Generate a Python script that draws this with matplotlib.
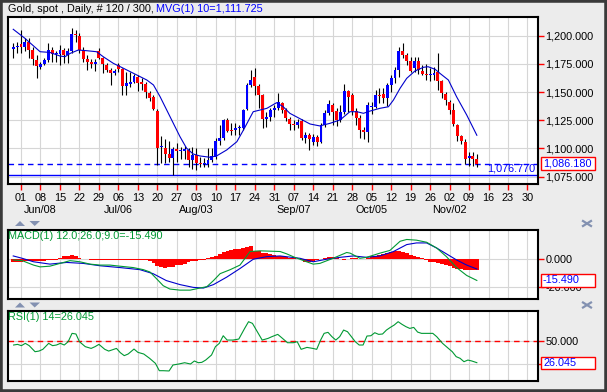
import numpy as np
import matplotlib.pyplot as plt
from matplotlib.patches import Rectangle, Polygon
from matplotlib.lines import Line2D
from matplotlib.ticker import FuncFormatter

plt.rcParams['font.family'] = ['Liberation Sans', 'DejaVu Sans']

# daily candles, 28 May .. 11 Nov (120 bars)
opens = [1188.5, 1190.0, 1192.3, 1190.0, 1194.7, 1187.0, 1178.4, 1172.5, 1174.6, 1178.4,
         1187.6, 1183.5, 1184.0, 1187.6, 1182.9, 1186.4, 1201.5, 1200.0, 1187.3, 1179.6,
         1176.4, 1175.0, 1186.7, 1180.5, 1174.0, 1169.6, 1167.2, 1174.0, 1170.5, 1155.7,
         1157.2, 1159.2, 1163.7, 1159.2, 1157.0, 1149.5, 1146.0, 1133.5, 1101.0, 1100.7,
         1094.8, 1091.3, 1099.5, 1097.5, 1097.5, 1098.6, 1089.8, 1094.2, 1087.1, 1086.2,
         1085.9, 1089.8, 1092.7, 1106.6, 1109.6, 1125.2, 1116.4, 1116.4, 1118.0, 1117.8,
         1134.9, 1156.3, 1163.7, 1155.7, 1147.4, 1126.1, 1128.2, 1134.0, 1135.6, 1140.0,
         1134.0, 1126.1, 1121.4, 1121.0, 1124.4, 1109.0, 1111.9, 1106.0, 1110.5, 1106.0,
         1120.8, 1131.2, 1138.5, 1133.2, 1125.2, 1132.6, 1151.0, 1147.4, 1133.2, 1126.7,
         1116.4, 1114.9, 1136.5, 1137.0, 1147.4, 1148.3, 1144.4, 1156.3, 1162.2, 1169.6,
         1186.4, 1182.9, 1177.8, 1171.0, 1177.8, 1168.7, 1165.9, 1165.2, 1165.1, 1167.5,
         1159.8, 1148.0, 1141.5, 1134.0, 1120.8, 1111.3, 1106.0, 1091.3, 1093.0, 1090.7]
highs = [1193.2, 1194.0, 1205.0, 1197.6, 1197.6, 1190.2, 1182.9, 1177.0, 1180.5, 1193.2,
         1190.2, 1186.4, 1191.7, 1189.4, 1188.8, 1206.5, 1205.0, 1202.0, 1190.0, 1182.9,
         1179.3, 1179.0, 1188.8, 1181.4, 1175.5, 1171.0, 1170.5, 1175.5, 1171.0, 1168.0,
         1168.0, 1165.7, 1165.1, 1162.2, 1159.2, 1151.0, 1147.4, 1135.0, 1111.3, 1108.4,
         1106.6, 1101.6, 1104.5, 1101.6, 1102.5, 1100.0, 1101.6, 1100.7, 1092.7, 1091.3,
         1100.0, 1100.7, 1109.0, 1120.8, 1126.1, 1126.7, 1122.3, 1123.0, 1120.8, 1134.7,
         1157.8, 1169.6, 1171.6, 1156.9, 1148.3, 1132.6, 1135.6, 1138.5, 1148.9, 1141.5,
         1135.6, 1128.2, 1125.2, 1126.0, 1126.0, 1115.0, 1113.4, 1112.5, 1112.0, 1122.3,
         1134.0, 1143.0, 1140.0, 1135.6, 1138.5, 1156.9, 1151.8, 1148.9, 1135.6, 1129.7,
         1119.0, 1140.9, 1141.0, 1152.0, 1154.0, 1154.0, 1158.0, 1165.0, 1172.0, 1190.3,
         1193.2, 1184.9, 1181.4, 1181.4, 1180.8, 1174.0, 1175.0, 1171.0, 1172.0, 1184.4,
         1161.0, 1150.0, 1143.0, 1140.0, 1122.0, 1112.0, 1108.0, 1097.2, 1096.6, 1094.8]
lows = [1180.5, 1185.0, 1185.0, 1186.4, 1180.0, 1174.0, 1162.2, 1170.5, 1174.0, 1177.0,
        1177.0, 1177.0, 1174.0, 1175.5, 1175.5, 1184.3, 1194.7, 1184.3, 1177.0, 1169.6,
        1171.0, 1168.7, 1179.5, 1166.6, 1167.5, 1156.3, 1165.0, 1168.0, 1147.4, 1147.4,
        1154.8, 1157.8, 1151.0, 1151.8, 1144.4, 1142.0, 1134.0, 1085.3, 1086.8, 1086.8,
        1088.3, 1076.77, 1088.3, 1090.7, 1091.0, 1083.9, 1081.8, 1081.0, 1084.0, 1084.0,
        1083.9, 1088.3, 1091.0, 1103.0, 1107.5, 1114.3, 1112.0, 1112.0, 1112.0, 1116.4,
        1134.0, 1154.8, 1147.4, 1135.6, 1117.8, 1119.3, 1124.4, 1128.2, 1134.0, 1131.2,
        1124.4, 1116.4, 1116.4, 1117.8, 1107.5, 1104.5, 1098.6, 1103.0, 1102.5, 1104.5,
        1119.3, 1129.7, 1120.8, 1120.2, 1123.8, 1130.3, 1132.6, 1129.7, 1120.8, 1109.0,
        1108.0, 1105.4, 1131.0, 1135.5, 1140.0, 1140.0, 1138.0, 1150.0, 1158.0, 1163.7,
        1180.0, 1174.0, 1168.1, 1168.1, 1166.0, 1165.4, 1160.7, 1160.0, 1161.0, 1151.9,
        1145.0, 1139.0, 1131.0, 1120.0, 1107.0, 1104.0, 1085.9, 1084.8, 1084.8, 1083.9]
closes = [1190.0, 1190.8, 1190.2, 1194.0, 1187.0, 1179.3, 1173.4, 1175.2, 1178.4, 1187.6,
          1183.5, 1183.8, 1187.6, 1182.9, 1186.4, 1201.5, 1200.5, 1187.3, 1179.6, 1177.0,
          1175.2, 1176.5, 1180.5, 1174.6, 1170.0, 1167.2, 1169.0, 1170.5, 1155.7, 1157.7,
          1159.2, 1164.2, 1157.8, 1156.9, 1150.4, 1145.0, 1135.0, 1100.7, 1101.5, 1094.8,
          1091.3, 1099.5, 1097.7, 1099.0, 1099.8, 1089.8, 1094.2, 1086.8, 1086.0, 1087.3,
          1089.8, 1093.3, 1106.6, 1109.6, 1125.2, 1115.5, 1115.5, 1118.4, 1118.0, 1134.0,
          1156.3, 1160.7, 1155.7, 1147.4, 1126.1, 1128.2, 1134.0, 1136.2, 1140.9, 1134.0,
          1127.3, 1121.4, 1120.5, 1123.5, 1109.0, 1111.9, 1108.4, 1110.5, 1106.0, 1120.8,
          1131.2, 1139.1, 1132.6, 1125.2, 1132.6, 1151.0, 1146.0, 1133.2, 1126.7, 1116.4,
          1114.9, 1138.5, 1137.5, 1147.4, 1146.8, 1144.4, 1156.3, 1162.2, 1169.6, 1186.4,
          1182.9, 1177.8, 1168.9, 1177.8, 1169.6, 1165.7, 1165.4, 1165.4, 1166.6, 1159.8,
          1148.9, 1143.0, 1134.0, 1121.4, 1111.3, 1106.6, 1090.7, 1093.0, 1090.7, 1086.18]

last_price = 1086.18
low_price = 1076.77

# 10 bar moving average
ma_x = [0.0, 3.0, 6.9, 9.4, 12.0, 13.3, 14.6, 16.7, 18.9, 21.4, 23.1, 25.7, 28.3, 31.7,
        34.3, 36.0, 37.7, 39.4, 41.1, 42.8, 44.5, 46.2, 47.9, 50.5, 52.2, 54.8, 57.4,
        59.1, 61.6, 65.1, 67.6, 69.3, 71.0, 73.4, 76.2, 78.7, 81.3, 83.9, 86.4, 88.2,
        89.9, 91.6, 94.1, 96.3, 97.6, 99.3, 101.0, 103.1, 105.3, 106.5, 108.3, 109.5,
        111.7, 113.8, 116.4, 119.0]
ma_y = [1205.7, 1197.7, 1185.8, 1185.2, 1182.0, 1181.4, 1184.3, 1187.3, 1186.7, 1185.8,
        1181.4, 1175.5, 1171.1, 1165.2, 1160.7, 1156.3, 1145.9, 1134.1, 1122.3, 1110.5,
        1100.2, 1095.1, 1093.4, 1092.2, 1093.4, 1098.7, 1106.0, 1116.4, 1132.6, 1135.6,
        1140.6, 1137.0, 1131.2, 1126.8, 1121.7, 1120.0, 1122.3, 1125.3, 1132.6, 1132.6,
        1131.2, 1133.2, 1135.6, 1137.0, 1143.0, 1153.4, 1162.2, 1168.7, 1172.0, 1172.5,
        1170.2, 1166.7, 1160.7, 1145.9, 1129.7, 1111.725]

# MACD(12,26,9) lines
macd_x = [0, 2.3, 5.2, 6.9, 9.4, 12.0, 14.6, 17.1, 19.7, 22.3, 24.8, 27.4, 30.8, 33.4,
          35.1, 36.8, 38.5, 40.2, 42.8, 45.4, 47.9, 49.7, 51.4, 53.1, 55.7, 58.2, 59.5,
          60.8, 63.3, 68.5, 70.2, 72.0, 73.6, 75.3, 77.0, 78.7, 82.1, 85.6, 86.5, 89.0,
          90.7, 94.1, 96.7, 99.3, 101.0, 103.5, 106.1, 108.7, 111.2, 113.8, 116.4, 119.0]
macd_y = [-0.7, -1.2, -4.4, -5.7, -5.2, -3.2, -1.2, -2.0, -3.7, -4.4, -4.4, -5.2, -6.2,
          -7.7, -9.4, -14.3, -19.3, -21.7, -22.5, -22.5, -21.0, -20.0, -15.6, -10.6, -7.7,
          -4.4, 0.5, 5.4, 5.9, 5.4, 3.7, 1.5, -0.2, -2.0, -3.7, -3.2, 0.5, 4.7, 4.2, 0.5,
          1.2, 4.2, 6.2, 12.8, 14.1, 13.6, 12.1, 7.9, 1.7, -6.2, -11.9, -15.49]
signal_x = [0, 2.3, 5.2, 9.4, 13.7, 18.0, 22.3, 27.4, 32.5, 35.9, 39.3, 42.8, 46.2, 48.8,
            51.4, 54.8, 58.2, 61.6, 65.1, 68.5, 73.6, 77.0, 80.4, 83.9, 87.3, 90.7, 94.1,
            97.6, 101.0, 103.5, 106.1, 108.7, 111.2, 113.8, 116.4, 119.0]
signal_y = [2.2, 0.5, -2.0, -3.7, -2.5, -3.2, -4.9, -6.2, -7.7, -10.6, -15.6, -18.5, -20.5,
            -21.0, -18.5, -13.1, -6.9, -0.2, 1.7, 2.2, 0.5, -2.0, -0.2, 1.2, 2.2, 1.2, 2.2,
            5.4, 10.4, 11.6, 11.6, 7.9, 3.7, -0.7, -4.4, -7.212]
hist = [-2, -2, -2, -1.8, -1.5, -1.5, -1.5, -1.5, -1.2, -1, -0.8, -0.5,
        1, 2, 2.5, 3, 2.5, 1, 0.3, -0.3, -0.5, -0.7, -0.7, -0.5,
        -0.5, -0.6, -0.8, -0.8, -0.7, -0.6, -0.5, -0.6, -0.8, -0.8, -1.0, -1.5,
        -3, -5, -6, -6.2, -6, -5.5, -4.5, -4, -3.5, -2.5, -1.8, -1.2,
        -0.8, -0.5, 0.5, 1.5, 2.5, 3.5, 5, 6, 6.5, 7, 7.5, 8, 9, 9.6,
        6, 5.5, 4.5, 4, 3.5, 3, 2.5, 2, 1.5, 1, 0.5, 0,
        -1, -2, -2, -1.5, -1, 0, 1, 1.5, 1.5, 1, 0, -0.5, 0, 0.5, 0.5, 0.3,
        0, 1, 2, 2.5, 3, 3.5, 4, 5, 5.5, 6, 5, 4, 3, 2, 1.5, 1,
        -1, -2, -2.5, -3, -3.5, -4, -5, -6.5, -7, -7.5, -7.7, -8, -8.2, -8.279]

# RSI(14)
rsi_x = [0.1, 1.1, 2.1, 3.1, 4.1, 5.6, 6.6, 7.6, 9.1, 10.1, 11.1, 12.1, 13.1, 14.1, 15.1,
         16.1, 17.0, 18.5, 20.0, 21.0, 22.0, 23.5, 24.5, 26.5, 27.5, 28.5, 29.5, 31.0,
         32.0, 33.5, 35.0, 36.5, 37.5, 38.5, 40.0, 41.0, 42.5, 44.0, 45.5, 46.5, 47.5,
         48.4, 49.4, 50.9, 51.9, 52.9, 53.9, 54.9, 56.4, 57.9, 59.4, 60.4, 61.4, 62.4,
         63.9, 65.4, 66.4, 67.9, 68.9, 70.4, 71.9, 72.9, 73.9, 75.4, 76.9, 77.9, 78.9,
         79.8, 80.8, 81.8, 82.8, 83.8, 84.8, 85.8, 86.8, 87.8, 88.8, 89.8, 90.8, 91.8,
         92.8, 93.8, 94.8, 95.8, 96.8, 97.8, 98.8, 99.8, 100.8, 101.8, 102.8, 103.8,
         104.8, 106.3, 107.7, 108.7, 110.2, 111.7, 112.7, 113.7, 114.7, 115.7, 116.7,
         117.7, 119.0]
rsi_y = [45.3, 46.0, 44.6, 47.1, 44.6, 38.0, 38.7, 40.6, 47.1, 44.6, 45.3, 47.1, 45.3,
         48.9, 58.0, 57.3, 48.9, 43.5, 41.6, 43.5, 46.0, 40.6, 38.7, 41.6, 36.9, 33.7,
         35.5, 40.9, 37.3, 35.5, 30.8, 25.3, 17.3, 17.3, 17.0, 23.5, 24.6, 26.0, 24.6,
         27.9, 26.0, 26.4, 28.9, 34.4, 43.5, 47.1, 55.4, 50.7, 50.7, 51.8, 63.4, 70.7,
         68.9, 61.6, 50.7, 52.5, 54.4, 56.9, 53.3, 47.8, 47.8, 48.9, 40.6, 42.7, 41.6,
         40.6, 50.7, 58.0, 59.1, 54.4, 50.7, 54.4, 61.6, 59.8, 54.4, 48.9, 45.3, 45.3,
         55.1, 55.4, 58.7, 56.9, 57.3, 61.6, 64.5, 67.1, 70.7, 67.8, 65.3, 63.4, 64.5,
         59.4, 58.0, 58.0, 58.0, 54.4, 47.1, 41.6, 38.0, 32.6, 30.8, 27.1, 28.9, 27.9,
         26.045]

week_labels = ["01", "08", "15", "22", "29", "06", "13", "20", "27", "03", "10", "17", "24",
               "31", "07", "14", "21", "28", "05", "12", "19", "26", "02", "09", "16", "23",
               "30"]
month_labels = ["Jun/08", "Jul/06", "Aug/03", "Sep/07", "Oct/05", "Nov/02"]
month_at = [1, 5, 9, 14, 18, 22]

W, H = 607, 392
FS = 7.8
BG = '#ECECEC'
BLUE = '#0000FF'
RED = '#FF0000'
GREEN = '#009933'
ICON = '#8391B1'

fig = plt.figure(figsize=(W / 100, H / 100), dpi=100, facecolor=BG)


def fx(x):
    return x / W


def fy(y):
    return 1 - y / H


week_pos = [2 + 5 * k for k in range(len(week_labels))]


def panel(top, bottom):
    a = fig.add_axes([fx(7.5), fy(bottom), (538 - 7.5) / W, (bottom - top) / H])
    a.set_facecolor('white')
    for s in a.spines.values():
        s.set_linewidth(1.5)
        s.set_color('black')
    a.set_xlim(-1.47, 134.7)
    a.set_xticks(week_pos)
    a.grid(True, color='#D6D6D6', lw=0.8)
    a.set_axisbelow(True)
    a.yaxis.tick_right()
    a.tick_params(axis='y', colors=RED, labelcolor='black', length=4, width=1,
                  labelsize=FS, pad=1.5)
    a.tick_params(axis='x', length=0, labelbottom=False)
    return a


# ---- price panel
ax = panel(17, 184)
ax.set_ylim(1068.5, 1216.6)
ax.set_yticks([1075, 1100, 1125, 1150, 1175, 1200])
ax.yaxis.set_major_formatter(FuncFormatter(lambda v, p: f'{v:,.3f}'))
ax.set_xticklabels(week_labels)
ax.tick_params(axis='x', colors=RED, labelcolor='black', length=4, width=1,
               labelsize=FS, pad=2.5, labelbottom=True)
for k, lab in zip(month_at, month_labels):
    ax.text(week_pos[k], -0.157, lab, transform=ax.get_xaxis_transform(),
            ha='center', va='center', fontsize=FS)

o = np.array(opens)
c = np.array(closes)
x = np.arange(len(opens))
ax.vlines(x, lows, highs, color='black', lw=0.8, zorder=3)
body_h = np.maximum(np.abs(c - o), 0.8)
ax.bar(x, body_h, bottom=np.minimum(o, c), width=0.75,
       color=np.where(c >= o, BLUE, RED), lw=0, zorder=4)
ax.plot(ma_x, ma_y, color='#0000CC', lw=0.8, zorder=5)
ax.axhline(last_price, color=BLUE, lw=1.0, ls=(0, (4, 3)), zorder=2)
ax.axhline(low_price, color=BLUE, lw=1.0, zorder=2)
ax.text(133.9, low_price + 1.2, f'{low_price:,.3f}', color=BLUE, fontsize=FS,
        ha='right', va='bottom')

# ---- MACD panel
am = panel(229.5, 299)
am.set_ylim(-28.9, 21.3)
am.set_yticks([-20, 0])
am.yaxis.set_major_formatter(FuncFormatter(lambda v, p: f'{v:.3f}'))
am.bar(x, hist, width=1.0, color=RED, lw=0, zorder=2)
am.plot(signal_x, signal_y, color='#0000CC', lw=0.8, zorder=3)
am.plot(macd_x, macd_y, color=GREEN, lw=0.8, zorder=3)

# ---- RSI panel (the 25 label sits under the value box, so only 50 is written)
ar = panel(310.7, 380.7)
ar.set_ylim(6.4, 82.7)
ar.set_yticks([25, 50])
ar.yaxis.set_major_formatter(FuncFormatter(lambda v, p: '' if v < 40 else f'{v:.3f}'))
ar.axhline(50, color=RED, lw=1.0, ls=(0, (4, 3)), zorder=2)
ar.plot(rsi_x, rsi_y, color=GREEN, lw=0.8, zorder=3)


# ---- texts in a row with different colours
def text_row(x0, y0, parts):
    t = fig.text(fx(x0), fy(y0), parts[0][0], color=parts[0][1], fontsize=FS,
                 va='center', ha='left', zorder=10)
    for s, col in parts[1:]:
        t = ax.annotate(s, xy=(1, 0.5), xycoords=t, color=col, fontsize=FS,
                        va='center', ha='left', annotation_clip=False, zorder=10)
    return t


text_row(7.5, 9, [('Gold, spot , Daily, # 120 / 300, ', 'black'),
                  ('MVG(1) 10=1,111.725', BLUE)])
text_row(7.5, 236, [('MACD(1) 12.0;26.0;9.0=-15.490', GREEN), ('/-7.212', BLUE),
                    ('/-8.279', RED)])
text_row(7.5, 316.5, [('RSI(1) 14=26.045', GREEN)])


def value_box(y0, y1, s):
    fig.add_artist(Rectangle((fx(541), fy(y1)), (595 - 541) / W, (y1 - y0) / H,
                             transform=fig.transFigure, fc='white', ec=RED, lw=1.0,
                             zorder=8))
    fig.text(fx(543), fy((y0 + y1) / 2), s, color=BLUE, fontsize=FS, va='center',
             ha='left', zorder=9)


value_box(157, 169.5, f'{last_price:,.3f}')
value_box(274, 286.5, '-15.490')
value_box(356.5, 369, '26.045')


# ---- panel separators with arrow icons and close cross
def separator(yc):
    fig.add_artist(Polygon([(fx(15), fy(yc + 2.5)), (fx(20), fy(yc - 2.5)),
                            (fx(25), fy(yc + 2.5))], closed=True,
                           transform=fig.transFigure, fc=ICON, ec='none'))
    fig.add_artist(Polygon([(fx(29.5), fy(yc - 2.5)), (fx(40), fy(yc - 2.5)),
                            (fx(34.7), fy(yc + 2.5))], closed=True,
                           transform=fig.transFigure, fc=ICON, ec='none'))
    for (xa, ya, xb, yb) in [(583, yc - 2.5, 591, yc + 2.5), (583, yc + 2.5, 591, yc - 2.5)]:
        fig.add_artist(Line2D([fx(xa), fx(xb)], [fy(ya), fy(yb)],
                              transform=fig.transFigure, color=ICON, lw=1.6))


separator(223.5)
separator(305)

# outer frame
fig.add_artist(Rectangle((0, 0), 1, 1, transform=fig.transFigure, fill=False,
                         ec='#3A3A3A', lw=4, zorder=20))

fig.savefig('out.png', dpi=100, facecolor=BG)
